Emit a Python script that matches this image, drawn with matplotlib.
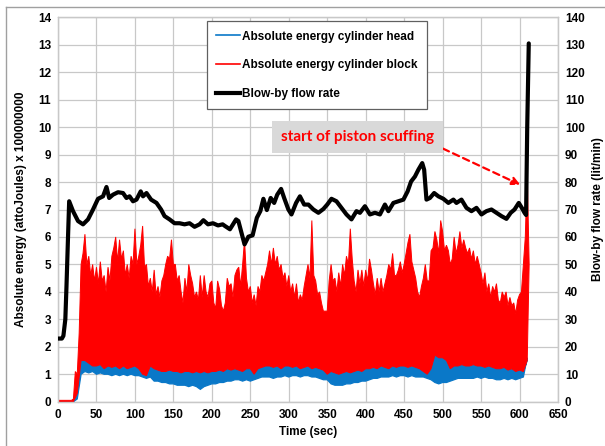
import numpy as np
import matplotlib
matplotlib.use("Agg")
import matplotlib.pyplot as plt
from matplotlib.lines import Line2D

# ---------------- data ----------------
# Absolute energy, cylinder block (red): upper envelope, 2.5 s steps from t=0
red_top = [
    0.05, 0.05, 0.05, 0.05, 0.05, 0.05, 0.05, 0.05,          # 0 - 17.5
    0.1, 1.1, 1.0, 2.5, 5.0,                                # 20 - 30
    5.4, 6.1, 5.0, 5.3, 4.6, 5.0, 4.4, 4.9, 4.3, 5.1,       # 32.5 - 55
    4.4, 4.6, 4.0, 4.9, 4.4, 5.3, 5.6, 6.0, 5.1, 5.9,       # 57.5 - 80
    5.2, 5.5, 4.6, 5.0, 4.5, 5.3, 5.0, 6.3, 5.0, 5.3,       # 82.5 - 105
    5.7, 6.4, 4.9, 5.0, 4.2, 4.5, 4.0, 4.8, 3.9, 4.2,       # 107.5 - 130
    3.8, 4.4, 4.6, 5.0, 5.3, 5.2, 5.9, 5.0, 5.0, 4.4,       # 132.5 - 155
    4.6, 4.0, 3.6, 4.5, 4.0, 5.0, 4.6, 4.3, 3.8, 4.0,       # 157.5 - 180
    3.7, 4.6, 3.8, 4.6, 4.0, 3.8, 4.3, 4.4, 3.6, 3.4,       # 182.5 - 205
    4.4, 4.1, 3.5, 3.3, 3.6, 4.5, 4.2, 4.3, 3.8, 4.6,       # 207.5 - 230
    4.8, 4.9, 4.2, 5.0, 5.9, 4.5, 4.0, 4.2, 3.6, 3.9,       # 232.5 - 255
    3.5, 4.2, 4.0, 4.6, 4.4, 4.7, 5.0, 5.5, 5.0, 5.6,       # 257.5 - 280
    5.0, 5.3, 4.8, 5.0, 4.5, 4.7, 4.2, 4.6, 4.0, 4.3,       # 282.5 - 305
    3.8, 4.3, 3.6, 3.9, 3.7, 4.2, 4.6, 5.0, 4.5, 6.6,       # 307.5 - 330
    4.6, 4.4, 3.9, 4.0, 3.6, 3.3, 3.3, 3.3, 4.4, 5.0,       # 332.5 - 355
    4.4, 4.5, 4.0, 4.7, 4.2, 5.0, 4.6, 5.3, 5.0, 6.3,       # 357.5 - 380
    5.2, 4.4, 4.0, 4.8, 4.3, 4.8, 4.2, 4.8, 4.4, 5.2,       # 382.5 - 405
    4.8, 4.3, 3.9, 4.5, 4.0, 4.5, 4.0, 4.3, 4.6, 5.0,       # 407.5 - 430
    4.8, 5.4, 4.6, 4.6, 4.8, 5.1, 4.7, 5.0, 5.4, 5.8,       # 432.5 - 455
    6.1, 5.1, 4.8, 4.5, 4.0, 3.8, 4.2, 4.5, 5.0, 4.4,       # 457.5 - 480
    4.4, 5.5, 5.6, 6.2, 5.9, 5.4, 6.6, 6.2, 5.5, 5.7,       # 482.5 - 505
    5.5, 5.0, 5.2, 6.0, 5.4, 5.7, 6.2, 5.6, 5.9, 5.6,       # 507.5 - 530
    5.4, 5.6, 5.2, 5.5, 5.0, 5.3, 5.0, 4.7, 4.3, 4.7,       # 532.5 - 555
    4.0, 4.3, 3.8, 4.2, 4.0, 4.3, 3.7, 3.6, 4.0, 3.8,       # 557.5 - 580
    4.0, 3.5, 3.8, 3.5, 3.6, 3.2, 3.7, 3.9, 4.0, 5.0,       # 582.5 - 605
    6.0, 8.4, 5.0,                                          # 607.5 - 612.5
]
# red lower envelope, 5 s steps from t=0
red_low = [
    0.0, 0.0, 0.0, 0.0, 0.0, 0.3, 1.5, 1.5, 1.4, 1.3,
    1.3, 1.35, 1.2, 1.3, 1.25, 1.3, 1.2, 1.3, 1.2, 1.25,
    1.3, 1.2, 1.0, 0.95, 1.3, 1.2, 1.15, 1.1, 1.1, 1.15,
    1.1, 1.1, 1.05, 1.1, 1.1, 1.05, 1.1, 1.05, 1.1, 1.05,
    1.1, 1.1, 1.15, 1.1, 1.2, 1.15, 1.2, 1.15, 1.1, 1.2,
    1.2, 1.0, 1.2, 1.25, 1.3, 1.3, 1.25, 1.3, 1.2, 1.3,
    1.3, 1.25, 1.3, 1.2, 1.25, 1.3, 1.2, 1.25, 1.2, 1.15,
    1.0, 1.1, 1.05, 1.0, 1.05, 1.1, 1.05, 1.1, 1.15, 1.1,
    1.2, 1.2, 1.25, 1.2, 1.3, 1.25, 1.2, 1.3, 1.25, 1.3,
    1.3, 1.25, 1.3, 1.25, 1.2, 1.1, 1.0, 1.2, 1.7, 1.6,
    1.6, 1.5, 1.2, 1.3, 1.3, 1.35, 1.3, 1.3, 1.35, 1.3,
    1.3, 1.25, 1.3, 1.25, 1.2, 1.2, 1.25, 1.15, 1.2, 1.1,
    1.15, 1.1, 1.5,
]
# Absolute energy, cylinder head (blue): lower envelope, 5 s steps from t=0
blue_low = [
    0.0, 0.0, 0.0, 0.0, 0.0, 0.1, 1.0, 1.1, 1.05, 1.1,
    1.0, 1.05, 1.0, 1.0, 0.95, 1.0, 0.95, 1.0, 0.95, 1.0,
    0.95, 0.95, 0.9, 0.85, 0.9, 0.75, 0.75, 0.7, 0.7, 0.65,
    0.65, 0.6, 0.6, 0.6, 0.55, 0.6, 0.55, 0.45, 0.55, 0.6,
    0.65, 0.65, 0.7, 0.7, 0.75, 0.75, 0.8, 0.8, 0.75, 0.8,
    0.75, 0.8, 0.85, 0.9, 0.9, 0.9, 0.85, 0.9, 0.9, 0.95,
    0.9, 0.95, 0.95, 0.9, 0.95, 0.95, 0.9, 0.9, 0.85, 0.8,
    0.8, 0.65, 0.6, 0.6, 0.6, 0.65, 0.65, 0.7, 0.7, 0.75,
    0.75, 0.8, 0.85, 0.85, 0.9, 0.9, 0.9, 0.95, 0.9, 0.95,
    0.95, 0.9, 0.95, 0.9, 0.9, 0.9, 0.85, 0.8, 0.7, 0.65,
    0.7, 0.7, 0.75, 0.8, 0.85, 0.85, 0.85, 0.85, 0.85, 0.9,
    0.85, 0.9, 0.85, 0.85, 0.8, 0.8, 0.85, 0.8, 0.85, 0.8,
    0.85, 0.9, 1.6,
]
# Blow-by flow rate (lit/min), right axis
blowby_t = [0, 5, 7, 9.5, 11, 13, 14.5, 19.5, 26, 32.5, 39, 45.5, 52, 58.5, 63,
            66.5, 71.5, 78, 84.5, 89, 93, 97.5, 102, 107.5, 110.5, 115, 121, 128,
            134, 138.5, 145, 151.5, 158, 164.5, 171, 177.5, 184, 189, 195, 201.5,
            208, 214, 217, 223.5, 231.5, 234.5, 239, 242.5, 247.5, 253, 258.5,
            263, 267, 271.5, 276.5, 281, 285, 290, 294, 299.5, 303.5, 309.5,
            314.5, 320, 325.5, 332, 338.5, 345, 350, 355.5, 362, 368.5, 375,
            381.5, 388, 392.5, 399, 405.5, 412, 418.5, 425, 429.5, 436, 442.5,
            449, 454.5, 459, 464, 468.5, 473.5, 476, 479, 483.5, 489, 494.5,
            501, 507.5, 514, 518, 524.5, 531, 537.5, 544, 550.5, 557, 563.5,
            570, 576.5, 583, 588.5, 593.5, 599, 603, 606.5, 608.5, 610, 612]
blowby = [23, 23, 24, 30, 42, 60, 73, 69.4, 65.8, 64.6, 66.4, 70, 73.9, 74.8, 78.2,
          74.2, 75.4, 76.3, 76, 74.2, 74.8, 73, 73.6, 76.6, 74.8, 76, 73.6, 72.4,
          70, 67.6, 66.4, 65, 65, 64.6, 65, 63.7, 64.6, 66.1, 64.6, 65,
          64.2, 64.6, 64, 62.8, 66.4, 65.8, 61, 57.3, 60.1, 60.6, 67,
          69.4, 73.9, 69.8, 74.2, 72.4, 75.4, 77.5, 74.2, 70, 68.2, 72.4,
          74.8, 71.8, 71.8, 70, 68.8, 70.2, 71.8, 73.9, 73, 70.6, 68.2,
          66.4, 69.4, 68.8, 71.2, 68.2, 68.8, 68.2, 71.8, 69.4, 72.4, 73,
          73.6, 76.6, 80.2, 82, 84.5, 86.9, 84.5, 73.6, 74.2, 76, 74.8,
          73.9, 72.4, 73.6, 72.4, 73.6, 70.6, 69.4, 70.6, 68.2, 69.4, 70,
          68.8, 67.6, 66.6, 68.8, 70, 72.4, 70.6, 68.8, 68, 100, 130.5]

labels = ["Absolute energy cylinder head", "Absolute energy cylinder block",
          "Blow-by flow rate"]
x_ticks = list(range(0, 651, 50))
y_left_ticks = list(range(0, 15))
y_right_ticks = list(range(0, 141, 10))
annotation_text = "start of piston scuffing"

# ---------------- drawing ----------------
plt.rcParams['font.family'] = ['Liberation Sans Narrow', 'Liberation Sans', 'DejaVu Sans']
plt.rcParams['font.weight'] = 'bold'

BLUE = '#0a78c8'
RED = '#ff0000'
GRID = '#c8c8c8'

fig = plt.figure(figsize=(6.05, 4.46), dpi=100)
ax = fig.add_axes([0.0959, 0.0993, 0.8264, 0.8619])

t25 = np.arange(len(red_top)) * 2.5
t5 = np.arange(len(red_low)) * 5.0
tb = np.arange(len(blue_low)) * 5.0

# blue band (visible under the red one)
ax.fill(np.concatenate([tb, tb[::-1]]),
        np.concatenate([blue_low, np.array(red_low)[::-1]]),
        facecolor=BLUE, edgecolor=BLUE, linewidth=0.9, zorder=2)
# red band
ax.fill(np.concatenate([t25, t5[::-1]]),
        np.concatenate([red_top, np.array(red_low)[::-1]]),
        facecolor=RED, edgecolor=RED, linewidth=0.7, zorder=3)

ax.set_xlim(0, 650)
ax.set_ylim(0, 14)
ax.set_xticks(x_ticks)
ax.set_yticks(y_left_ticks)
ax.grid(True, color=GRID, linewidth=0.9, zorder=0)
ax.set_axisbelow(True)
ax.tick_params(length=0, labelsize=8.5, pad=5)
for s in ax.spines.values():
    s.set_color(GRID)
    s.set_linewidth(0.9)
ax.set_xlabel("Time (sec)", fontsize=8.5, fontweight='bold', labelpad=4)
ax.set_ylabel("Absolute energy (attoJoules) x 100000000", fontsize=8.5,
              fontweight='bold', labelpad=8)

ax2 = ax.twinx()
ax2.plot(blowby_t, blowby, color='black', linewidth=3.0, zorder=5,
         solid_joinstyle='round', solid_capstyle='round')
ax2.set_ylim(0, 140)
ax2.set_yticks(y_right_ticks)
ax2.tick_params(length=0, labelsize=8.5, pad=5)
for s in ax2.spines.values():
    s.set_color(GRID)
    s.set_linewidth(0.9)
ax2.set_ylabel("Blow-by flow rate (lit/min)", fontsize=8.5, fontweight='bold',
               labelpad=5)

# legend
handles = [Line2D([], [], color=BLUE, linewidth=1.2),
           Line2D([], [], color=RED, linewidth=1.2),
           Line2D([], [], color='black', linewidth=3.0)]
leg = ax2.legend(handles, labels, loc='upper left', bbox_to_anchor=(0.298, 0.99),
                 fontsize=8.5, frameon=True, fancybox=False, edgecolor='#606060',
                 framealpha=1, labelspacing=1.4, handlelength=2.0,
                 handletextpad=0.15, borderpad=0.8, borderaxespad=0)
leg.get_frame().set_linewidth(0.9)
for txt in leg.get_texts():
    txt.set_fontweight('bold')

# annotation
ax.annotate(annotation_text, xy=(601, 7.9), xytext=(389, 9.63),
            ha='center', va='center', fontsize=11, fontweight='bold',
            color=RED, family=['Lato', 'DejaVu Sans'],
            bbox=dict(boxstyle='square,pad=0.6', facecolor='#d9d9d9',
                      edgecolor='none'),
            arrowprops=dict(arrowstyle='-|>', color=RED, linestyle=(0, (3, 2)),
                            linewidth=1.6, mutation_scale=12, shrinkA=0,
                            shrinkB=0, relpos=(1.0, 0.0)),
            zorder=10)

# outer border (top and left visible in the reference)
fig.add_artist(Line2D([6 / 605, 1.0], [1 - 7 / 446, 1 - 7 / 446],
                      transform=fig.transFigure, color='#a0a0a0', linewidth=1.0))
fig.add_artist(Line2D([6 / 605, 6 / 605], [0.0, 1 - 7 / 446],
                      transform=fig.transFigure, color='#a0a0a0', linewidth=1.0))

fig.savefig("out.png", dpi=100)
